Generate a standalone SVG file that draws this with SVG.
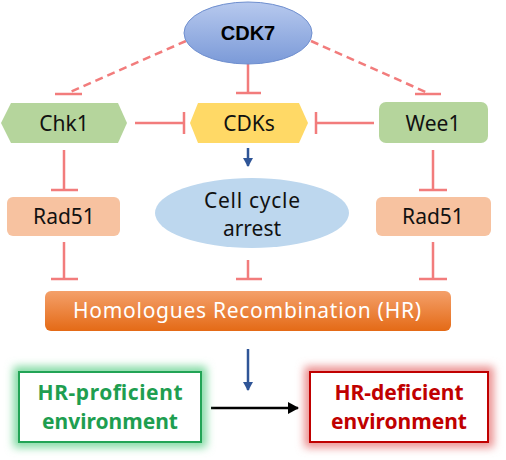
<svg xmlns="http://www.w3.org/2000/svg" width="506" height="460" viewBox="0 0 506 460">
<defs>
<linearGradient id="gCdk7" x1="0" y1="0" x2="0" y2="1">
<stop offset="0" stop-color="#b7c9ee"/>
<stop offset="1" stop-color="#7b9ad8"/>
</linearGradient>
<linearGradient id="gHR" x1="0" y1="0" x2="0" y2="1">
<stop offset="0" stop-color="#f4a06a"/>
<stop offset="1" stop-color="#e46a16"/>
</linearGradient>
<filter id="blur" x="-20%" y="-30%" width="140%" height="160%">
<feGaussianBlur stdDeviation="4.5"/>
</filter>
<marker id="arrBlue" markerWidth="10" markerHeight="10" refX="8" refY="5" orient="auto" markerUnits="userSpaceOnUse">
<path d="M0,0 L9,5 L0,10 Z" fill="#2f5597"/>
</marker>
<marker id="arrBlack" markerWidth="12" markerHeight="12" refX="10" refY="6" orient="auto" markerUnits="userSpaceOnUse">
<path d="M0,0 L11,6 L0,12 Z" fill="#000"/>
</marker>
</defs>
<style>
.inh{stroke:#f27c7c;stroke-width:2.5;fill:none}
.dash{stroke-dasharray:8 5}
.lbl{font-family:"Noto Sans","Open Sans","DejaVu Sans",sans-serif;font-size:21px;fill:#111;text-anchor:middle;dominant-baseline:central}
.env{font-family:"Noto Sans","Open Sans","DejaVu Sans",sans-serif;font-size:21px;font-weight:bold;text-anchor:middle}
</style>
<rect width="506" height="460" fill="#fff"/>

<g id="connectors">
<path class="inh dash" d="M186,41 L68,93"/>
<path class="inh" d="M55,94 H82"/>
<path class="inh dash" d="M311,41 L428,93"/>
<path class="inh" d="M415,94 H441"/>
<path class="inh" d="M248,64 V93 M236,93 H261"/>
<path class="inh" d="M135,123 H184 M184,112 V134"/>
<path class="inh" d="M374,123 H316 M316,112 V134"/>
<path class="inh" d="M64,150 V190 M51,190 H78"/>
<path class="inh" d="M433,150 V190 M419,190 H447"/>
<path class="inh" d="M64,242 V279 M51,279 H78"/>
<path class="inh" d="M248,260 V279 M236,279 H262"/>
<path class="inh" d="M433,242 V279 M419,279 H447"/>
<path d="M248,148 V166" stroke="#2f5597" stroke-width="2.5" marker-end="url(#arrBlue)"/>
<path d="M248,349 V390" stroke="#2f5597" stroke-width="2.5" marker-end="url(#arrBlue)"/>
<path d="M211,408 H298" stroke="#000" stroke-width="2.5" marker-end="url(#arrBlack)"/>
</g>

<g id="cdk7">
<ellipse cx="248" cy="33" rx="64" ry="31" fill="url(#gCdk7)" stroke="#6f8fcf" stroke-width="1"/>
<text x="248" y="33" style="font-family:'Liberation Sans',Arial,sans-serif;font-size:20px;font-weight:bold;fill:#000;text-anchor:middle;dominant-baseline:central">CDK7</text>
</g>

<g id="chk1">
<polygon points="1,123 11,103 118,103 127,123 118,143 11,143" fill="#b5d59c"/>
<text class="lbl" x="64" y="123">Chk1</text>
</g>

<g id="cdks">
<polygon points="190,123 198,103 299,103 308,123 299,143 198,143" fill="#ffd966"/>
<text class="lbl" x="249" y="123">CDKs</text>
</g>

<g id="wee1">
<rect x="379" y="102" width="109" height="41" rx="7" fill="#b5d59c"/>
<text class="lbl" x="433" y="123">Wee1</text>
</g>

<g id="rad51-left">
<rect x="7" y="197" width="113" height="39" rx="6" fill="#f7c2a0"/>
<text class="lbl" x="64" y="216">Rad51</text>
</g>

<g id="cell-cycle">
<ellipse cx="252" cy="213" rx="97" ry="35" fill="#bdd7ee"/>
<text class="lbl" x="252" y="200" textLength="96">Cell cycle</text>
<text class="lbl" x="252" y="228">arrest</text>
</g>

<g id="rad51-right">
<rect x="376" y="197" width="115" height="39" rx="6" fill="#f7c2a0"/>
<text class="lbl" x="433" y="216">Rad51</text>
</g>

<g id="hr">
<rect x="45" y="291" width="406" height="40" rx="6" fill="url(#gHR)"/>
<text class="lbl" x="247" y="310" style="fill:#fff" textLength="348">Homologues Recombination (HR)</text>
</g>

<g id="hr-proficient">
<rect x="19" y="372" width="182" height="70" fill="none" stroke="#7fd9a0" stroke-width="11" filter="url(#blur)"/>
<rect x="19" y="372" width="182" height="70" fill="#fff" stroke="#22a456" stroke-width="2"/>
<text class="env" x="110" y="400" fill="#1e9e50" textLength="145">HR-proficient</text>
<text class="env" x="110" y="429" fill="#1e9e50">environment</text>
</g>

<g id="hr-deficient">
<rect x="310" y="372" width="178" height="70" fill="none" stroke="#ea8c8c" stroke-width="11" filter="url(#blur)"/>
<rect x="310" y="372" width="178" height="70" fill="#fff" stroke="#c00000" stroke-width="2"/>
<text class="env" x="399" y="400" fill="#c00000">HR-deficient</text>
<text class="env" x="399" y="429" fill="#c00000">environment</text>
</g>
</svg>
